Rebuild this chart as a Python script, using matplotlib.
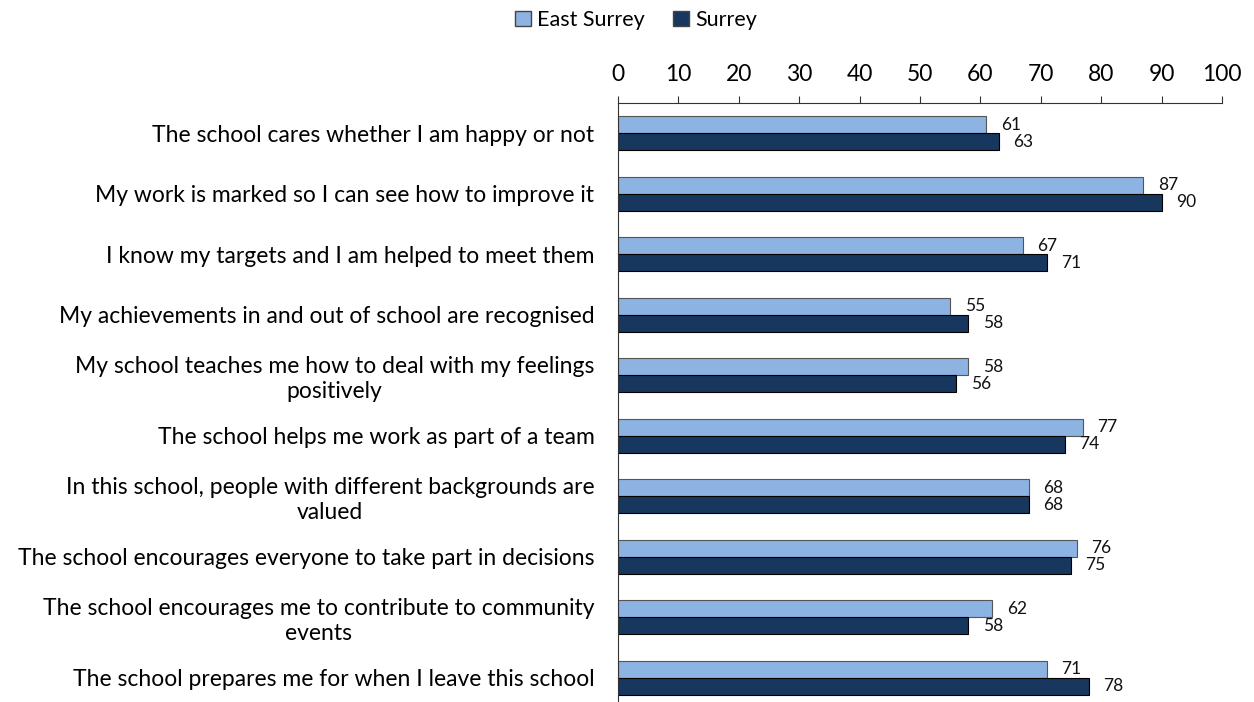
import numpy as np
import matplotlib.pyplot as plt
from matplotlib.patches import Patch

# Survey statements (top to bottom)
CATEGORIES = [
    "The school cares whether I am happy or not",
    "My work is marked so I can see how to improve it",
    "I know my targets and I am helped to meet them",
    "My achievements in and out of school are recognised",
    "My school teaches me how to deal with my feelings\npositively",
    "The school helps me work as part of a team",
    "In this school, people with different backgrounds are\nvalued",
    "The school encourages everyone to take part in decisions",
    "The school encourages me to contribute to community\nevents",
    "The school prepares me for when I leave this school",
]
EAST_SURREY = [61, 87, 67, 55, 58, 77, 68, 76, 62, 71]
SURREY = [63, 90, 71, 58, 56, 74, 68, 75, 58, 78]
SERIES_NAMES = ["East Surrey", "Surrey"]

LIGHT = "#8DB3E2"
DARK = "#17375E"

plt.rcParams['font.family'] = ['Lato', 'DejaVu Sans']

fig = plt.figure(figsize=(12.54, 7.02), dpi=100)
ax = fig.add_axes([618 / 1254, -6 / 702, 604 / 1254, 605 / 702])

y = np.arange(len(CATEGORIES))
h = 0.28

ax.barh(y - h / 2, EAST_SURREY, height=h, color=LIGHT, edgecolor="#555555", linewidth=0.8)
ax.barh(y + h / 2, SURREY, height=h, color=DARK, edgecolor="black", linewidth=0.8)

for i in range(len(CATEGORIES)):
    ax.text(EAST_SURREY[i] + 2.4, y[i] - h / 2, str(EAST_SURREY[i]),
            va='center', ha='left', fontsize=12.5, color="#111111")
    ax.text(SURREY[i] + 2.4, y[i] + h / 2, str(SURREY[i]),
            va='center', ha='left', fontsize=12.5, color="#111111")

ax.set_xlim(0, 100)
ax.set_ylim(len(CATEGORIES) - 0.5, -0.5)
ax.set_xticks(range(0, 101, 10))
ax.xaxis.tick_top()
ax.tick_params(axis='x', direction='out', length=5, labelsize=16.5, pad=8, color="#333333")
ax.set_yticks(y)
ax.set_yticklabels(CATEGORIES, fontsize=16.5, multialignment='center')
ax.tick_params(axis='y', length=0, pad=17)

for side in ['right', 'bottom']:
    ax.spines[side].set_visible(False)
ax.spines['top'].set_color("#333333")
ax.spines['left'].set_color("#333333")

handles = [Patch(facecolor=LIGHT, edgecolor="#444444", label=SERIES_NAMES[0]),
           Patch(facecolor=DARK, edgecolor="#444444", label=SERIES_NAMES[1])]
fig.legend(handles=handles, loc='center', bbox_to_anchor=(636 / 1254, 1 - 20 / 702),
           ncol=2, frameon=False, fontsize=15.5, handlelength=0.75, handleheight=0.75,
           handletextpad=0.3, columnspacing=1.3)

plt.savefig("out.png", dpi=100)
